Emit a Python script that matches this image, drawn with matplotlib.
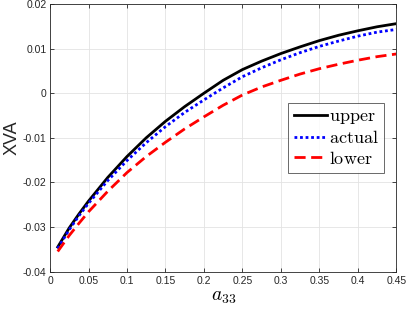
import matplotlib
matplotlib.use('Agg')
import matplotlib.pyplot as plt

# values
a33 = [0.01, 0.025, 0.0375, 0.05, 0.075, 0.1, 0.125, 0.15, 0.175, 0.2, 0.225,
       0.25, 0.275, 0.3, 0.325, 0.35, 0.375, 0.4, 0.425, 0.45]
upper = [-0.0345, -0.0302, -0.0271, -0.0242, -0.0189, -0.0142, -0.0100, -0.0063,
         -0.0030, 0.0000, 0.0029, 0.0053, 0.0072, 0.0089, 0.0104, 0.0118,
         0.0130, 0.0140, 0.0149, 0.0156]
actual = [-0.0348, -0.0306, -0.0275, -0.0247, -0.0196, -0.0151, -0.0111, -0.0075,
          -0.0043, -0.0015, 0.0012, 0.0037, 0.0057, 0.0075, 0.0091, 0.0105,
          0.0117, 0.0128, 0.0137, 0.0143]
lower = [-0.0355, -0.0319, -0.0292, -0.0266, -0.0220, -0.0178, -0.0142, -0.0110,
         -0.0080, -0.0053, -0.0027, -0.0004, 0.0014, 0.0029, 0.0043, 0.0055,
         0.0065, 0.0074, 0.0082, 0.0088]
xticks = [0, 0.05, 0.1, 0.15, 0.2, 0.25, 0.3, 0.35, 0.4, 0.45]
xticklabels = ['0', '0.05', '0.1', '0.15', '0.2', '0.25', '0.3', '0.35', '0.4', '0.45']
yticks = [-0.04, -0.03, -0.02, -0.01, 0, 0.01, 0.02]
yticklabels = ['-0.04', '-0.03', '-0.02', '-0.01', '0', '0.01', '0.02']

plt.rcParams['mathtext.fontset'] = 'cm'
plt.rcParams['font.family'] = ['Liberation Sans', 'DejaVu Sans']

fig = plt.figure(figsize=(4.07, 3.10), dpi=100)
ax = fig.add_axes([0.1229, 0.124, 0.851, 0.863])

ax.plot(a33, upper, color='black', lw=2.0, ls='-', label=r'$\mathrm{upper}$')
ax.plot(a33, actual, color='blue', lw=2.0, ls=(0, (1, 1)), label=r'$\mathrm{actual}$')
ax.plot(a33, lower, color='red', lw=2.0, ls=(0, (4, 2)), label=r'$\mathrm{lower}$')

ax.set_xlim(0, 0.45)
ax.set_ylim(-0.04, 0.02)
ax.set_xticks(xticks)
ax.set_xticklabels(xticklabels)
ax.set_yticks(yticks)
ax.set_yticklabels(yticklabels)
ax.tick_params(direction='in', length=3, width=0.6, colors='#262626',
               labelsize=7.5, top=True, right=True, labeltop=False, labelright=False)
ax.tick_params(axis='y', pad=2.5)
ax.tick_params(axis='x', pad=3.5)
ax.grid(True, color='#e3e3e3', lw=0.6)
ax.set_axisbelow(True)
for s in ax.spines.values():
    s.set_color('#262626')
    s.set_linewidth(0.6)

ax.set_ylabel('XVA', fontsize=13, color='#262626')
ax.yaxis.set_label_coords(-0.085, 0.5)
ax.set_xlabel(r'$a_{33}$', fontsize=14, labelpad=2)

leg = ax.legend(loc='center right', bbox_to_anchor=(0.965, 0.499), fontsize=13,
                frameon=True, fancybox=False, handlelength=1.85, handletextpad=0.1,
                labelspacing=0.2, borderpad=0.3, borderaxespad=0)
leg.get_frame().set_edgecolor('#262626')
leg.get_frame().set_linewidth(0.6)

fig.savefig('out.png', dpi=100)
